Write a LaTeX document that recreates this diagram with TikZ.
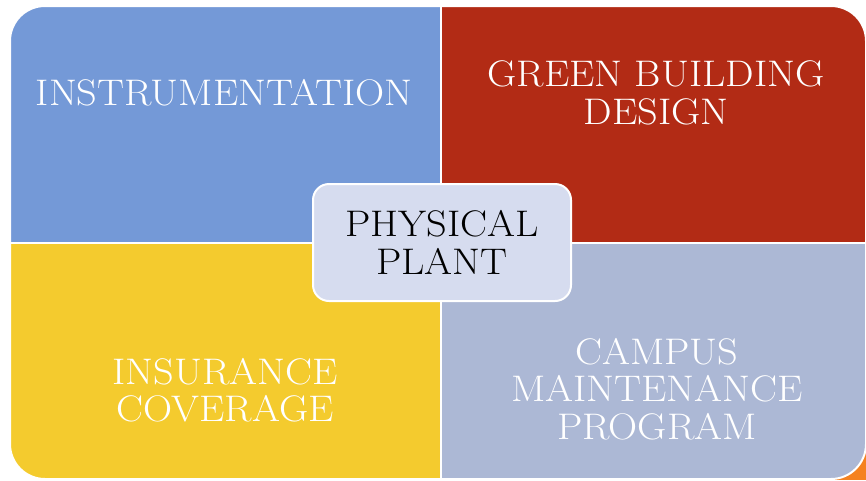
\documentclass[tikz,border=0pt]{standalone}
\usepackage{fontspec}
\newfontfamily\widefont{Latin Modern Roman}[FakeStretch=1.09]
\definecolor{qblue}{HTML}{7499D7}
\definecolor{qred}{HTML}{B22B15}
\definecolor{qyellow}{HTML}{F4CB2E}
\definecolor{qgray}{HTML}{ACB8D5}
\definecolor{qcenter}{HTML}{D6DCEF}
\definecolor{qorange}{HTML}{F58220}
\begin{document}
\begin{tikzpicture}[x=1pt,y=-1pt,
  quadtext/.style={text=white,align=center,font=\widefont\fontsize{37}{37.5}\selectfont},
  hubbox/.style={draw=white,line width=2pt,fill=qcenter,rounded corners=16pt,
    minimum width=258pt,minimum height=117pt,align=center,
    font=\widefont\fontsize{37}{38}\selectfont,text=black}]
\useasboundingbox (0,0) rectangle (866,480);
\fill[qorange] (835,450) rectangle (866,480);
\begin{scope}
  \clip[rounded corners=35pt] (10,6) rectangle (866,479);
  \fill[qblue] (0,0) rectangle (440,242);
  \fill[qred] (442,0) rectangle (870,242);
  \fill[qyellow] (0,244) rectangle (440,485);
  \fill[qgray] (442,244) rectangle (870,485);
\end{scope}
\draw[white,line width=2pt,rounded corners=35pt] (10,6) rectangle (866,479);
\node[quadtext] (instr) at (224,93) {INSTRUMENTATION};
\node[quadtext] (green) at (656,93) {GREEN BUILDING\\DESIGN};
\node[quadtext] (insur) at (225,390) {INSURANCE\\COVERAGE};
\node[quadtext] (campus) at (657,389) {CAMPUS\\MAINTENANCE\\PROGRAM};
\node[hubbox] (hub) at (442,242.5) {PHYSICAL\\PLANT};
\end{tikzpicture}
\end{document}
